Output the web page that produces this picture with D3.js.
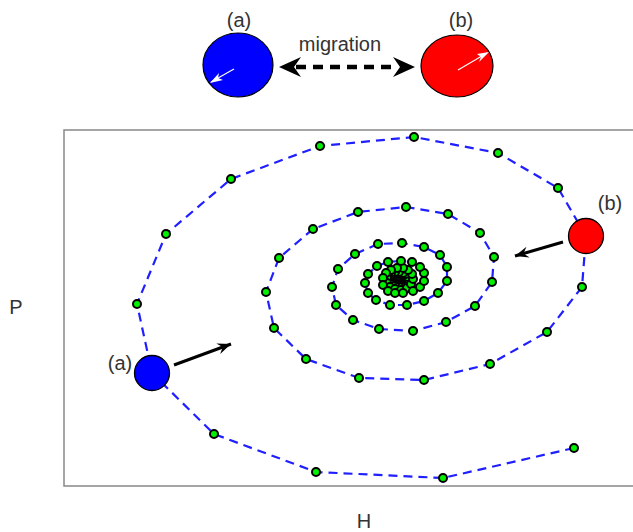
<!DOCTYPE html>
<html>
<head>
<meta charset="utf-8">
<script src="https://cdn.jsdelivr.net/npm/d3@7"></script>
<style>
  body { margin: 0; background: #fff; }
  text { font-family: "Liberation Sans", Arial, sans-serif; fill: #333; }
</style>
</head>
<body>
<div id="chart"></div>
<script>
// trajectory in the H-P phase plane (arbitrary units)
var H = [510, 379, 252, 150, 88, 73, 102, 167, 256, 350, 434, 494, 522, 518, 483, 426, 360, 295, 242, 210,
  202, 215, 249, 294, 342, 384, 416, 430, 428, 411, 382, 349, 315, 289, 272, 268, 274, 291, 314, 338,
  360, 376, 383, 383, 374, 360, 343, 326, 312, 304, 301, 304, 313, 324, 337, 348, 356, 360, 360, 356,
  349, 339, 331, 324, 319, 319, 322, 327, 333, 339, 344, 348, 349, 347, 343, 337, 331, 326, 323,
  323, 324, 327, 331, 335, 339, 342, 344, 345, 344, 342, 338, 334, 330, 327, 325,
  326, 327, 329, 332, 336, 339, 341, 343, 344, 343, 341, 338, 335, 331, 328, 326,
  327, 329, 332, 335, 338, 340, 342, 342, 340, 337, 334, 331, 329,
  329, 331, 333, 336, 339, 341, 340, 338, 335, 332, 330,
  331, 333, 336, 338, 339, 338, 336, 333, 332,
  332, 334, 336, 338, 337, 335, 333,
  334, 336, 337, 336, 335, 336];
var P = [38, 8, 14, 52, 113, 182, 252, 307, 340, 349, 333, 298, 250, 199, 154, 122, 106, 108, 127, 158,
  194, 228, 257, 274, 279, 272, 253, 229, 204, 180, 164, 155, 157, 166, 181, 199, 217, 232, 242, 243,
  239, 231, 219, 205, 193, 185, 181, 181, 186, 193, 203, 212, 220, 224, 225, 224, 219, 213, 205, 199,
  195, 193, 193, 195, 201, 208, 213, 216, 218, 218, 216, 212, 207, 202, 198, 196, 197, 199, 203,
  208, 211, 213, 214, 214, 213, 212, 209, 206, 203, 201, 199, 199, 200, 202, 205,
  207, 209, 211, 212, 212, 211, 210, 208, 205, 203, 201, 200, 200, 201, 202, 204,
  207, 209, 210, 211, 210, 209, 207, 204, 203, 202, 202, 203, 205,
  207, 209, 210, 210, 209, 207, 204, 203, 203, 203, 205,
  207, 209, 209, 208, 206, 204, 203, 203, 205,
  207, 208, 208, 206, 204, 204, 205,
  206, 207, 206, 205, 206, 206];

// the two patches sit on the trajectory
var patchNames = ["(a)", "(b)"];
var patchIndex = [4, 12];
var patchColors = ["#0000ff", "#ff0000"];

// arrows showing where each patch is heading
var arrowFromH = [110, 499], arrowFromP = [121, 244];
var arrowToH = [167, 451], arrowToP = [142, 230];

var width = 633, height = 532;
var svg = d3.select("#chart").append("svg")
  .attr("width", width)
  .attr("height", height);

var defs = svg.append("defs");
defs.append("marker")
  .attr("id", "headSmall")
  .attr("viewBox", "-20 -10 22 20")
  .attr("markerUnits", "userSpaceOnUse")
  .attr("markerWidth", 18)
  .attr("markerHeight", 16)
  .attr("orient", "auto")
  .append("path")
  .attr("d", "M0,0 L-17,-7 L-11,0 L-17,7 Z")
  .attr("fill", "#000");

// ---- top legend: the two patches with migration between them
var legend = svg.append("g");
legend.append("ellipse")
  .attr("cx", 238).attr("cy", 65).attr("rx", 35).attr("ry", 32)
  .attr("fill", "#0000ff").attr("stroke", "#000").attr("stroke-width", 1.2);
legend.append("ellipse")
  .attr("cx", 457).attr("cy", 66).attr("rx", 36).attr("ry", 31)
  .attr("fill", "#ff0000").attr("stroke", "#000").attr("stroke-width", 1.2);
legend.append("line")
  .attr("x1", 234).attr("y1", 69).attr("x2", 211).attr("y2", 82)
  .attr("stroke", "#fff").attr("stroke-width", 1.2);
legend.append("line")
  .attr("x1", 458).attr("y1", 70).attr("x2", 487).attr("y2", 53)
  .attr("stroke", "#fff").attr("stroke-width", 1.2);
// small white arrowheads
legend.append("path")
  .attr("d", "M210,83 L219,73 L218,78 L223,80 Z").attr("fill", "#fff");
legend.append("path")
  .attr("d", "M489,52 L477,54 L481,57 L479,62 Z").attr("fill", "#fff");

legend.append("line")
  .attr("x1", 296).attr("y1", 67).attr("x2", 398).attr("y2", 67)
  .attr("stroke", "#000").attr("stroke-width", 4.5)
  .attr("stroke-dasharray", "10,7");
legend.append("path")
  .attr("d", "M279,67 L301,57 L294,67 L301,77 Z").attr("fill", "#000");
legend.append("path")
  .attr("d", "M415,67 L393,57 L400,67 L393,77 Z").attr("fill", "#000");
legend.append("text")
  .attr("x", 340).attr("y", 51).attr("text-anchor", "middle")
  .style("font-size", "20px").text("migration");
legend.append("text")
  .attr("x", 239).attr("y", 27).attr("text-anchor", "middle")
  .style("font-size", "20px").text(patchNames[0]);
legend.append("text")
  .attr("x", 461).attr("y", 27).attr("text-anchor", "middle")
  .style("font-size", "20px").text(patchNames[1]);

// ---- phase plane
var x = d3.scaleLinear().domain([0, 569]).range([64, 633]);
var y = d3.scaleLinear().domain([0, 356]).range([486, 130]);

svg.append("rect")
  .attr("x", x(0)).attr("y", y(356))
  .attr("width", x(580) - x(0)).attr("height", y(0) - y(356))
  .attr("fill", "none").attr("stroke", "#888").attr("stroke-width", 1.5);

var pts = H.map(function (h, i) { return [h, P[i]]; });

var line = d3.line()
  .x(function (d) { return x(d[0]); })
  .y(function (d) { return y(d[1]); });

svg.append("path")
  .datum(pts)
  .attr("d", line)
  .attr("fill", "none")
  .attr("stroke", "#1f1fff")
  .attr("stroke-width", 2.2)
  .attr("stroke-dasharray", "9,6");

// draw the late (inner) points first so the outer rings sit on top
svg.selectAll(".dot")
  .data(pts.slice().reverse())
  .enter()
  .append("circle")
  .attr("class", "dot")
  .attr("cx", function (d) { return x(d[0]); })
  .attr("cy", function (d) { return y(d[1]); })
  .attr("r", 4)
  .attr("fill", "#00f000")
  .attr("stroke", "#000")
  .attr("stroke-width", 2);

svg.selectAll(".patch")
  .data(patchIndex)
  .enter()
  .append("circle")
  .attr("class", "patch")
  .attr("cx", function (d) { return x(H[d]); })
  .attr("cy", function (d) { return y(P[d]); })
  .attr("r", 17.5)
  .attr("fill", function (d, i) { return patchColors[i]; })
  .attr("stroke", "#000")
  .attr("stroke-width", 1.3);

svg.selectAll(".move")
  .data(arrowFromH)
  .enter()
  .append("line")
  .attr("class", "move")
  .attr("x1", function (d) { return x(d); })
  .attr("y1", function (d, i) { return y(arrowFromP[i]); })
  .attr("x2", function (d, i) { return x(arrowToH[i]); })
  .attr("y2", function (d, i) { return y(arrowToP[i]); })
  .attr("stroke", "#000")
  .attr("stroke-width", 3)
  .attr("marker-end", "url(#headSmall)");

// patch labels next to the big circles
svg.append("text")
  .attr("x", x(H[4]) - 32).attr("y", y(P[4]) - 3).attr("text-anchor", "middle")
  .style("font-size", "20px").text(patchNames[0]);
svg.append("text")
  .attr("x", x(H[12]) + 24).attr("y", y(P[12]) - 26).attr("text-anchor", "middle")
  .style("font-size", "20px").text(patchNames[1]);

// axis names
svg.append("text")
  .attr("x", 16).attr("y", 314).attr("text-anchor", "middle")
  .style("font-size", "20px").text("P");
svg.append("text")
  .attr("x", 364).attr("y", 528).attr("text-anchor", "middle")
  .style("font-size", "20px").text("H");
</script>
</body>
</html>
